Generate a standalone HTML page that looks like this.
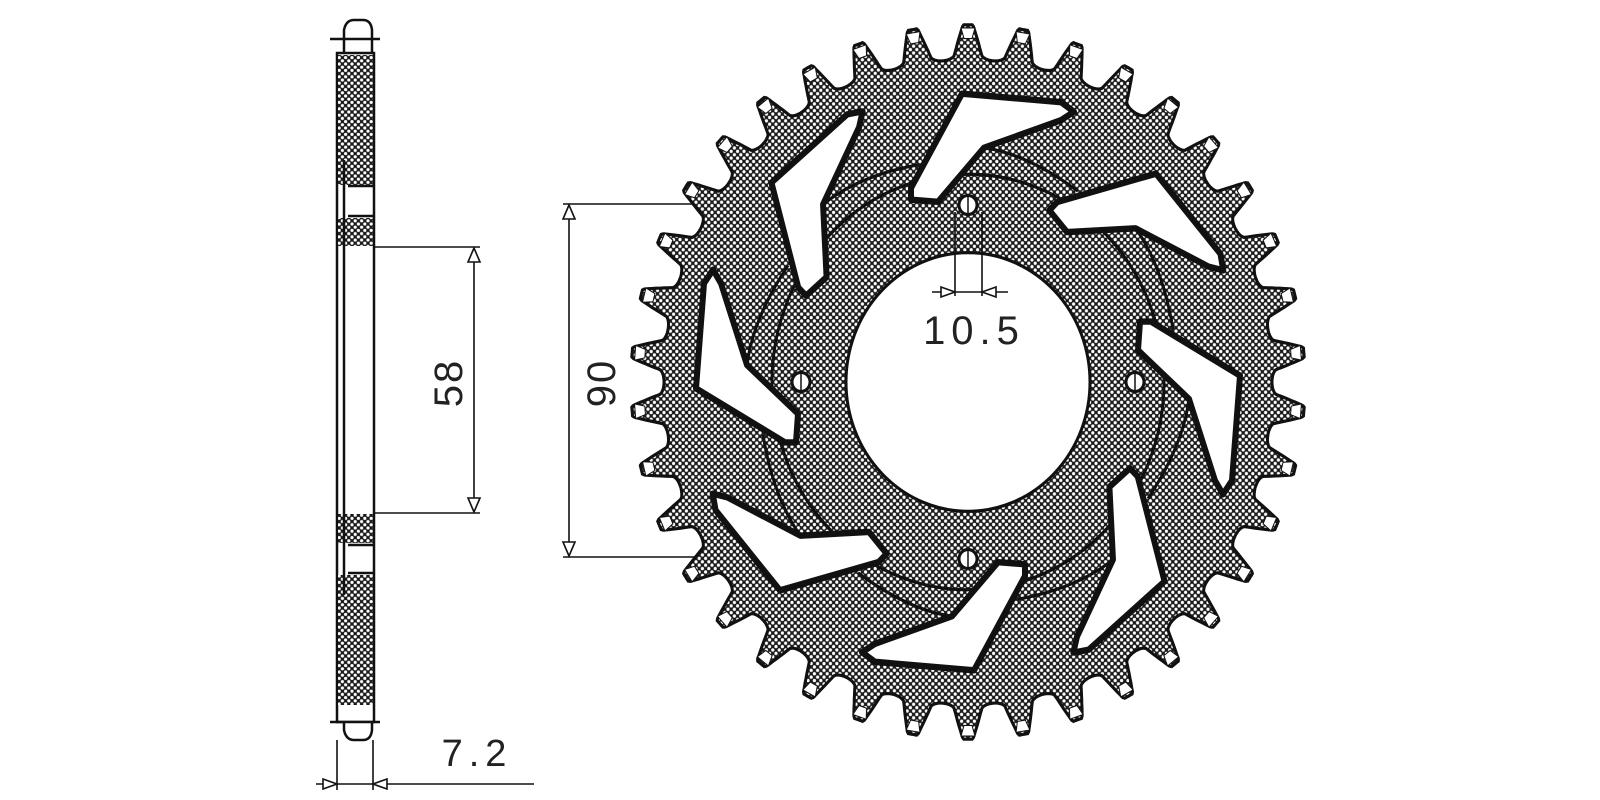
<!DOCTYPE html>
<html><head><meta charset="utf-8"><style>
html,body{margin:0;padding:0;background:#fff;width:1600px;height:800px;overflow:hidden}
svg{display:block}
text{font-family:"Liberation Sans",sans-serif;fill:#222}
</style></head><body>
<svg id="s" width="1600" height="800" viewBox="0 0 1600 800" xmlns="http://www.w3.org/2000/svg">
<defs>
<pattern id="h" patternUnits="userSpaceOnUse" width="6.4" height="6.4">
<rect width="6.4" height="6.4" fill="#1a1a1a"/>
<circle cx="0" cy="0" r="1.6" fill="#fff"/><circle cx="6.4" cy="0" r="1.6" fill="#fff"/>
<circle cx="0" cy="6.4" r="1.6" fill="#fff"/><circle cx="6.4" cy="6.4" r="1.6" fill="#fff"/>
<circle cx="3.2" cy="3.2" r="1.6" fill="#fff"/>
</pattern>
</defs>

<!-- side view -->
<g stroke="#111" stroke-width="2.5" fill="none">
<path d="M344 53 L344 30 Q346 20 354 20 L363 20 Q371 20 372 30 L372 53" fill="#fff"/>
<line x1="330" y1="39" x2="380" y2="39"/>
<rect x="337" y="53" width="37" height="669" fill="#fff"/>
<rect x="338" y="55" width="35" height="130" fill="url(#h)" stroke="none"/>
<rect x="338" y="218" width="35" height="28" fill="url(#h)" stroke="none"/>
<rect x="338" y="514" width="35" height="29" fill="url(#h)" stroke="none"/>
<rect x="338" y="575" width="35" height="130" fill="url(#h)" stroke="none"/>
<line x1="344" y1="160" x2="344" y2="595"/>
<line x1="348" y1="186" x2="374" y2="186"/><line x1="348" y1="216" x2="374" y2="216"/>
<line x1="348" y1="545" x2="374" y2="545"/><line x1="348" y1="573" x2="374" y2="573"/>
<path d="M344 722 L344 730 Q346 740 354 740 L363 740 Q371 740 372 730 L372 722" fill="#fff"/>
<line x1="330" y1="722" x2="380" y2="722"/>
</g>
<g stroke="#111" stroke-width="1.6" fill="#fff">
<line x1="373" y1="247" x2="480" y2="247"/>
<line x1="373" y1="513" x2="480" y2="513"/>
<line x1="474" y1="250" x2="474" y2="510"/>
<path d="M474 248 L468 262 L480 262 Z"/>
<path d="M474 512 L468 498 L480 498 Z"/>
<line x1="337" y1="740" x2="337" y2="790"/>
<line x1="373" y1="740" x2="373" y2="790"/>
<line x1="316" y1="784" x2="534" y2="784"/>
<path d="M337 784 L323 779 L323 789 Z"/>
<path d="M373 784 L387 779 L387 789 Z"/>
<line x1="563" y1="204" x2="820" y2="204"/>
<line x1="563" y1="557" x2="900" y2="557"/>
<line x1="569" y1="207" x2="569" y2="554"/>
<path d="M569 205 L563 219 L575 219 Z"/>
<path d="M569 556 L563 542 L575 542 Z"/>
</g>
<text x="0" y="0" font-size="40" text-anchor="middle" transform="translate(462,383) rotate(-90)" letter-spacing="2">58</text>
<text x="0" y="0" font-size="40" text-anchor="middle" transform="translate(615,383) rotate(-90)" letter-spacing="2">90</text>
<text x="477" y="766" font-size="38" text-anchor="middle" letter-spacing="6">7.2</text>

<g id="gear" transform="translate(968,382) scale(1,1.06)"></g>

<g stroke="#111" stroke-width="1.6" fill="#fff">
<line x1="955" y1="212" x2="955" y2="296"/>
<line x1="982" y1="212" x2="982" y2="296"/>
<line x1="932" y1="292" x2="1008" y2="292"/>
<path d="M955 292 L941 287 L941 297 Z"/>
<path d="M982 292 L996 287 L996 297 Z"/>
</g>
<text x="974" y="344" font-size="40" text-anchor="middle" letter-spacing="6">10.5</text>
</svg>
<script>
(function(){
var NS="http://www.w3.org/2000/svg",g=document.getElementById('gear');
var N=38,Rt=337,Rr=304,pts=[];
for(var i=0;i<N*40;i++){
 var th=i/(N*40)*2*Math.PI, t=((th/(2*Math.PI)*N)%1+1)%1; if(t>0.5)t-=1; var a=Math.abs(t);
 var r;
 if(a<0.09) r=Rt;
 else if(a<0.26) r=Rt-(Rt-Rr-6)*(a-0.09)/0.17;
 else { var u=(a-0.26)/0.24; r=Rr+6-6*Math.sqrt(Math.max(0,1-(1-u)*(1-u))); }
 pts.push([r*Math.sin(th),-r*Math.cos(th)]);
}
function mk(tag,at){var e=document.createElementNS(NS,tag);for(var k in at)e.setAttribute(k,at[k]);g.appendChild(e);return e;}
var d="M"+pts.map(function(p){return p[0].toFixed(1)+" "+p[1].toFixed(1)}).join(" L")+" Z";
mk('path',{d:d,fill:"url(#h)",stroke:"#111","stroke-width":3});
for(var i=0;i<N;i++){
 var th=i/N*360;
 mk('path',{d:"M-7 -334 L7 -334 L4 -324 L-4 -324 Z",fill:"#fff",stroke:"#111","stroke-width":1,transform:"rotate("+th+")"});
}
mk('circle',{cx:0,cy:0,r:196,fill:"none",stroke:"#111","stroke-width":3});
var W=[[-6,-272],[93,-264],[106,-255],[93,-247],[16,-221],[-30,-170],[-57,-172],[-57,-183]];
var wd="M"+W.map(function(p){return p.join(" ")}).join(" L")+" Z";
for(var k=0;k<8;k++){
 mk('path',{d:wd,fill:"#fff",stroke:"#111","stroke-width":6,"stroke-linejoin":"round",transform:"rotate("+(k*45)+")"});
 mk('path',{d:"M16 -221 Q60 -215 110 -180",fill:"none",stroke:"#111","stroke-width":3,transform:"rotate("+(k*45)+")"});
}
mk('circle',{cx:0,cy:0,r:122,fill:"#fff",stroke:"#111","stroke-width":3});
for(var k=0;k<4;k++){
 var a=k*Math.PI/2,x=167*Math.sin(a),y=-167*Math.cos(a);
 mk('circle',{cx:x.toFixed(1),cy:y.toFixed(1),r:9,fill:"#fff",stroke:"#111","stroke-width":3});
 mk('line',{x1:x.toFixed(1),y1:(y-8).toFixed(1),x2:x.toFixed(1),y2:(y+8).toFixed(1),stroke:"#111","stroke-width":1.5});
}
})();
</script>
</body></html>
